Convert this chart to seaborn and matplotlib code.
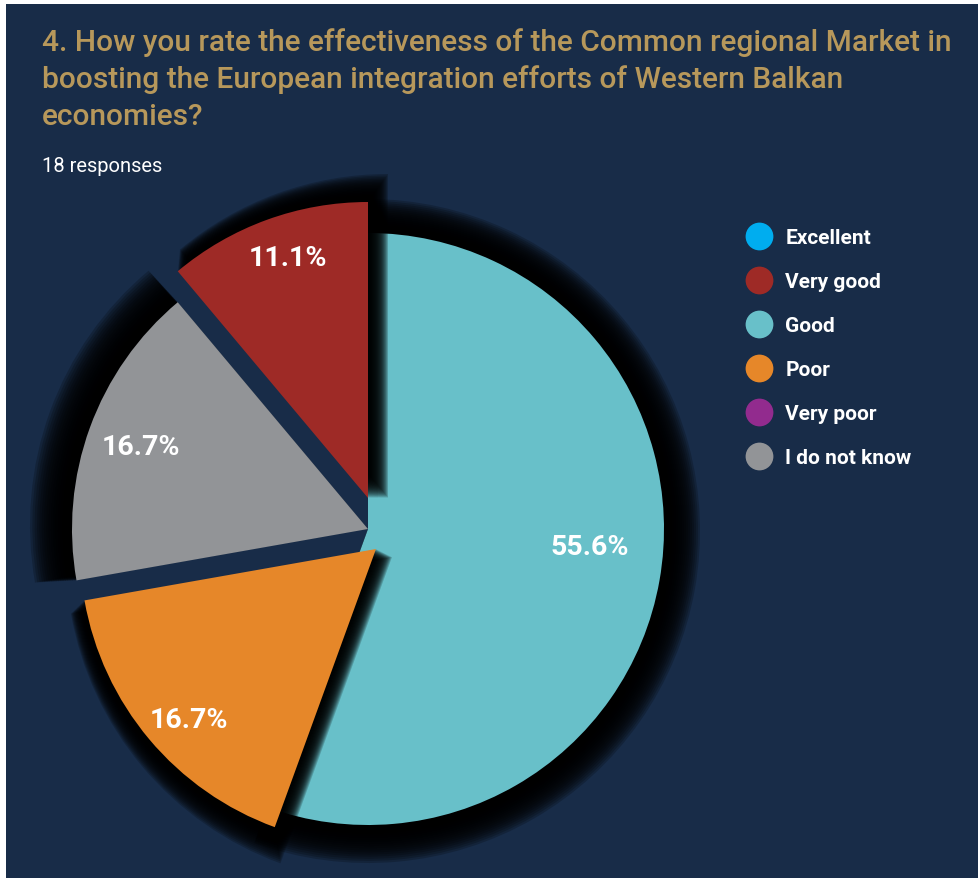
import numpy as np
import matplotlib
matplotlib.use("Agg")
import matplotlib.pyplot as plt
from matplotlib.patches import Wedge, Rectangle
from matplotlib.lines import Line2D
import seaborn as sns

# survey data
categories = ["Excellent", "Very good", "Good", "Poor", "Very poor", "I do not know"]
responses = [0, 2, 10, 3, 0, 3]
colors = ["#00adef", "#9e2a26", "#68c0c9", "#e68729", "#922b8e", "#929497"]
# order in which the slices go round, counter-clockwise from 12 o'clock
pie_order = ["Very good", "I do not know", "Poor", "Good"]
n_responses = 18

title = ("4. How you rate the effectiveness of the Common regional Market in\n"
         "boosting the European integration efforts of Western Balkan\n"
         "economies?")

BG = "#182c48"
GOLD = "#b7985b"
W, H = 979, 879

sns.set_theme(style="dark")
plt.rcParams["font.family"] = ["Roboto", "DejaVu Sans"]

fig = plt.figure(figsize=(W / 100, H / 100), dpi=100, facecolor="white")
ax = fig.add_axes([0, 0, 1, 1])
ax.add_patch(Rectangle((6, 0), W - 6, H - 5, color=BG, lw=0, zorder=0))

# pie
idx = [categories.index(c) for c in pie_order]
vals = [responses[i] for i in idx]
cols = [colors[i] for i in idx]
cx, cy, R = 368, H - 530, 296
wedges, _ = ax.pie(vals, colors=cols, startangle=90, counterclock=True,
                   radius=R, center=(cx, cy), frame=True,
                   wedgeprops=dict(linewidth=0))

# slice offsets, shadow (dx, dy, grow) and label placement per slice
offsets = {"Very good": (0, 31), "Poor": (8, -20)}
shadows = {"Good": (0, -2, 36), "I do not know": (-6, 4, 36),
           "Very good": (20, 0, 28), "Poor": (16, -8, 30)}
label_pos = {"Good": (0.75, 5.5), "I do not know": (0.815, 0),
             "Very good": (0.855, -1.5), "Poor": (0.855, 2.5)}
z_order = {"Good": 2, "I do not know": 4, "Very good": 6, "Poor": 8}


def draw_shadow(w, dx, dy, grow, z, n=18, alpha=0.2):
    x0, y0 = w.center
    for k in range(n, 0, -1):
        f = k / n
        ax.add_patch(Wedge((x0 + dx * f, y0 + dy * f), w.r + grow * f,
                           w.theta1, w.theta2, color="black", alpha=alpha,
                           lw=0, zorder=z))


for name, w in zip(pie_order, wedges):
    dx, dy = offsets.get(name, (0, 0))
    w.set_center((cx + dx, cy + dy))
    z = z_order[name]
    w.set_zorder(z)
    sdx, sdy, grow = shadows[name]
    draw_shadow(w, sdx, sdy, grow, z - 0.5)

    dist, rot = label_pos[name]
    mid = np.deg2rad((w.theta1 + w.theta2) / 2 + rot)
    pct = 100 * vals[pie_order.index(name)] / sum(vals)
    ax.text(cx + dx + dist * R * np.cos(mid), cy + dy + dist * R * np.sin(mid),
            f"{pct:.1f}%", color="white", fontsize=20.5, fontweight="bold",
            ha="center", va="center", zorder=20)

ax.set_xlim(0, W)
ax.set_ylim(0, H)
ax.set_aspect("equal")
ax.axis("off")

# titles
ax.text(42, H - 28, title, color=GOLD, fontsize=21.5, fontweight="medium",
        ha="left", va="top", linespacing=1.38, zorder=20)
ax.text(42, H - 157, f"{n_responses} responses", color="white", fontsize=14.5,
        ha="left", va="top", zorder=20)

# legend
handles = [Line2D([], [], marker="o", linestyle="", markersize=20,
                  markerfacecolor=c, markeredgewidth=0) for c in colors]
leg = ax.legend(handles, categories, loc="upper left",
                bbox_to_anchor=(749, H - 229), bbox_transform=ax.transData,
                frameon=False, handlelength=1.0, handletextpad=0.75,
                labelspacing=1.2, borderpad=0, borderaxespad=0,
                prop=dict(weight="bold", size=15))
for t in leg.get_texts():
    t.set_color("white")
leg.set_zorder(20)

fig.savefig("out.png", dpi=100, facecolor="white")
